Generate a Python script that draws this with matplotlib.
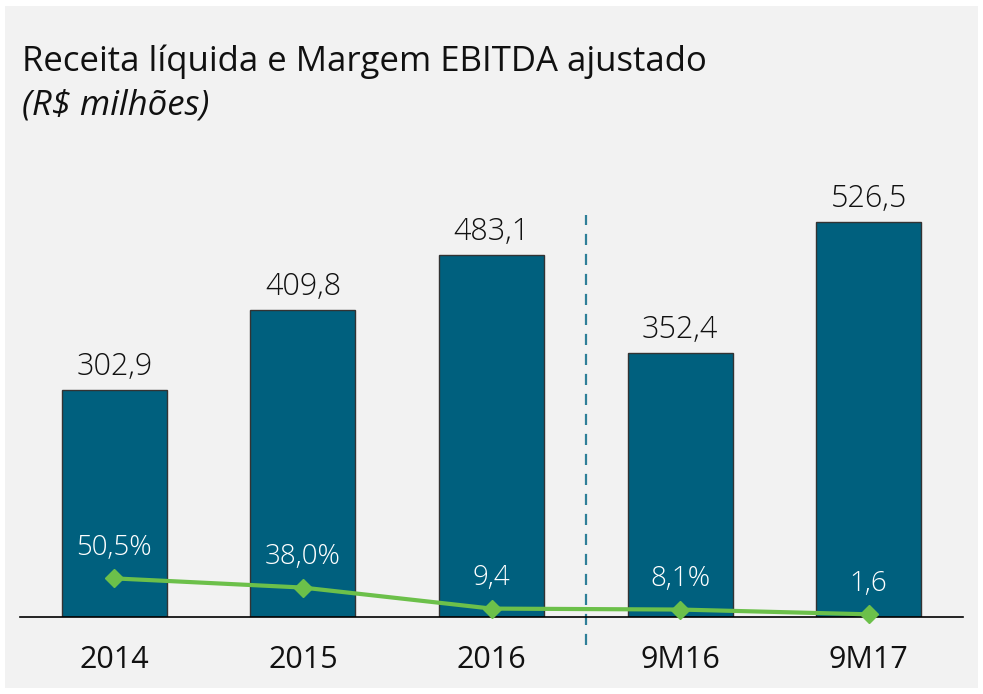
"""
Receita liquida (bars) and Margem EBITDA ajustado (line) chart.
"""

import matplotlib

matplotlib.use("Agg")
import matplotlib.pyplot as plt
from matplotlib.patches import Rectangle

categories = ["2014", "2015", "2016", "9M16", "9M17"]
receita = [302.9, 409.8, 483.1, 352.4, 526.5]
receita_labels = ["302,9", "409,8", "483,1", "352,4", "526,5"]
margem = [50.5, 38.0, 9.4, 8.1, 1.6]
margem_labels = ["50,5%", "38,0%", "9,4", "8,1%", "1,6"]

BAR_COLOR = "#00607e"
LINE_COLOR = "#6cc04a"
DASH_COLOR = "#2f7f98"
BG = "#f2f2f2"

plt.rcParams["font.family"] = ["Open Sans", "DejaVu Sans"]


def main():
    fig = plt.figure(figsize=(9.83, 6.94), dpi=100)
    fig.patch.set_facecolor("white")
    fig.patches.append(
        Rectangle((5 / 983, 6 / 694), 973 / 983, 682 / 694,
                  transform=fig.transFigure, facecolor=BG, edgecolor="none", zorder=-5)
    )

    ax = fig.add_axes([20 / 983, 77 / 694, 943 / 983, 450 / 694])
    ax.set_facecolor("none")
    x = list(range(len(categories)))
    ax.bar(x, receita, width=0.557, color=BAR_COLOR, edgecolor="#333333",
           linewidth=1.0, zorder=2)
    for xi, v, lab in zip(x, receita, receita_labels):
        ax.annotate(lab, (xi, v), xytext=(0, 5), textcoords="offset points",
                    ha="center", va="bottom", fontsize=22, fontweight="light",
                    color="#111111")

    ax.set_xlim(-0.5, 4.5)
    ax.set_ylim(0, 600)
    ax.set_xticks(x)
    ax.set_xticklabels(categories, fontsize=22, color="#111111")
    ax.tick_params(axis="x", length=0, pad=20)
    ax.set_yticks([])
    for side in ["left", "right", "top"]:
        ax.spines[side].set_visible(False)
    ax.spines["bottom"].set_linewidth(1.2)
    ax.spines["bottom"].set_zorder(5)

    # separator between full years and nine-month periods
    ax.plot([2.5, 2.5], [-37, 536], color=DASH_COLOR, linestyle=(0, (5, 4)),
            linewidth=1.6, clip_on=False, zorder=3)

    ax2 = ax.twinx()
    ax2.set_ylim(0, 600)
    ax2.set_yticks([])
    for side in ["left", "right", "top", "bottom"]:
        ax2.spines[side].set_visible(False)
    ax2.plot(x, [m * 0.98 + 2 for m in margem], color=LINE_COLOR, linewidth=3,
             marker="D", markersize=9, clip_on=False, zorder=4)
    for xi, m, lab in zip(x, margem, margem_labels):
        ax2.annotate(lab, (xi, m * 0.98 + 2), xytext=(0, 12), textcoords="offset points",
                     ha="center", va="bottom", fontsize=20, fontweight="light",
                     color="white")

    fig.text(22 / 983, 1 - 62 / 694, "Receita líquida e Margem EBITDA ajustado",
             fontsize=25, color="#111111", va="center", ha="left")
    fig.text(22 / 983, 1 - 105 / 694, "(R$ milhões)", fontsize=25, style="italic",
             color="#111111", va="center", ha="left")

    fig.savefig("out.png", dpi=100)


if __name__ == "__main__":
    main()
